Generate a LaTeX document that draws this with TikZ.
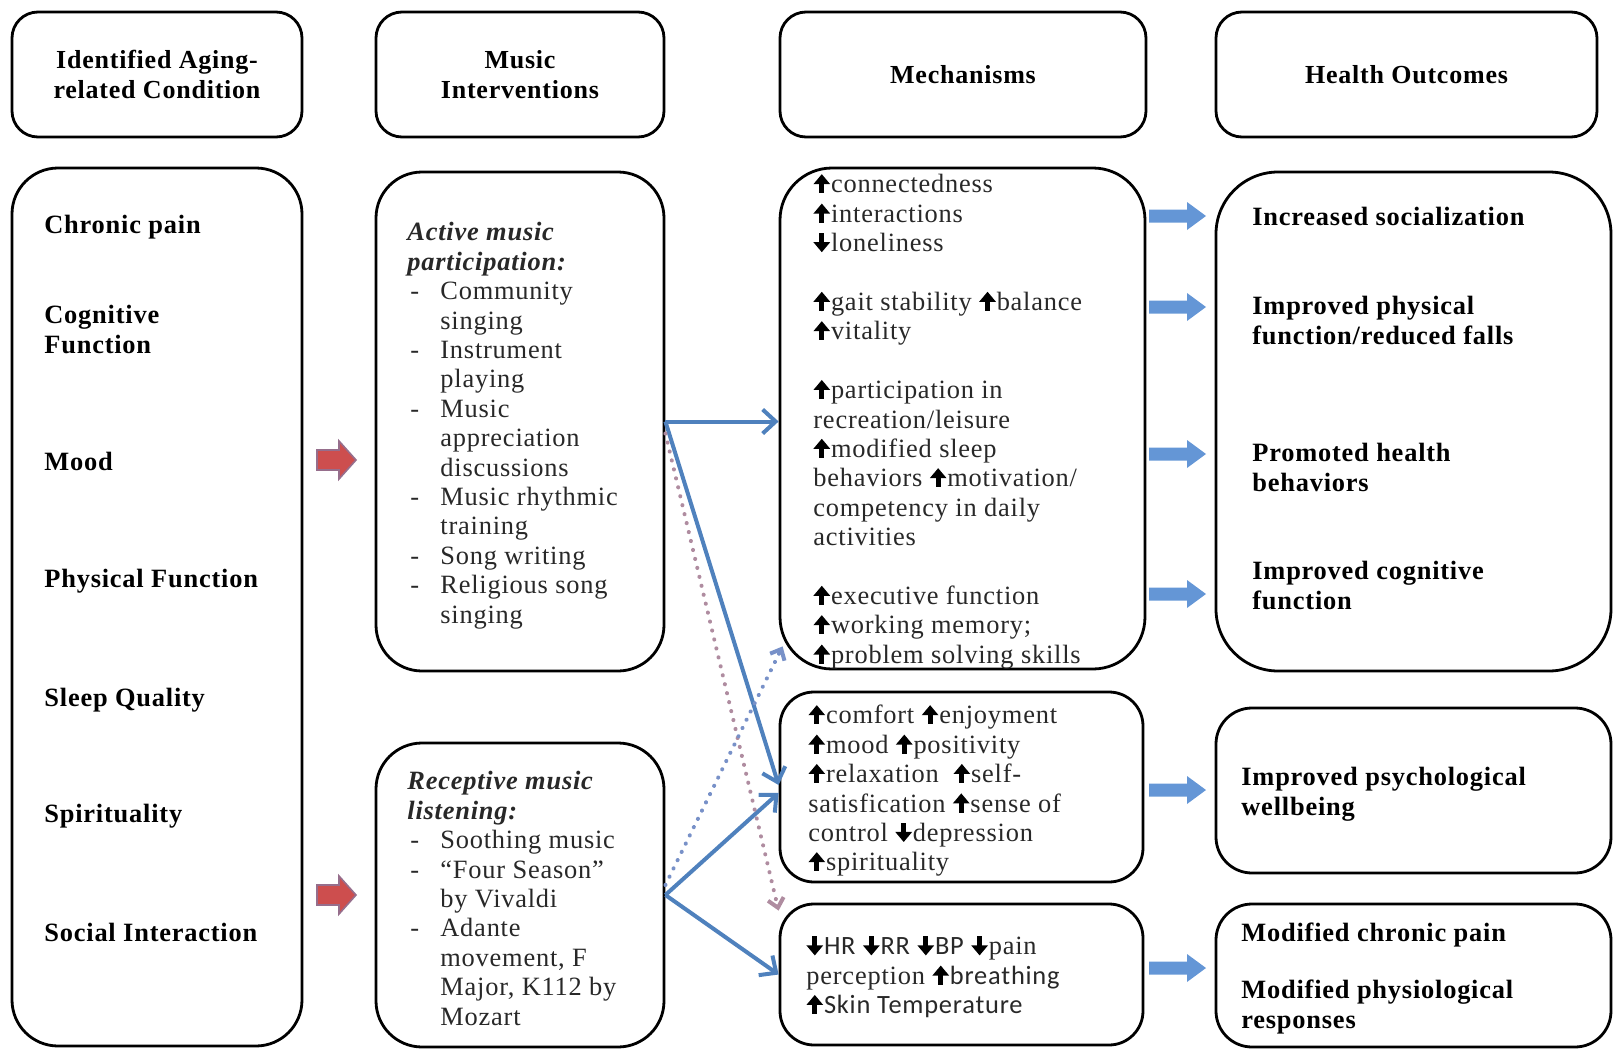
\documentclass[tikz,border=0pt]{standalone}
\usepackage{fontspec}
\setmainfont{Liberation Serif}[LetterSpace=3]
\newfontfamily\sansf{Carlito}[LetterSpace=3]
\usetikzlibrary{arrows.meta}
\definecolor{connblue}{RGB}{79,129,189}
\definecolor{blkblue}{RGB}{100,150,214}
\definecolor{blkred}{RGB}{205,78,78}
\definecolor{redline}{RGB}{150,110,140}
\definecolor{dotpink}{RGB}{175,140,160}
\definecolor{dotblue}{RGB}{120,145,200}
\definecolor{bodytext}{RGB}{40,40,40}
\newcommand\upa{\tikz[baseline=0pt]{\fill[black] (-1.2pt,-0.2pt) rectangle (1.2pt,5.5pt); \fill[black] (-4.2pt,4.4pt) -- (4.2pt,4.4pt) -- (0pt,9.4pt) -- cycle;}\hspace{0.4pt}}
\newcommand\dna{\tikz[baseline=0pt]{\fill[black] (-1.2pt,3.7pt) rectangle (1.2pt,9.4pt); \fill[black] (-4.2pt,4.8pt) -- (4.2pt,4.8pt) -- (0pt,-0.2pt) -- cycle;}\hspace{0.4pt}}
\begin{document}
\begin{tikzpicture}[x=0.5pt,y=-0.5pt,
  box/.style={draw=black, line width=1.4pt, fill=white, rectangle, inner sep=0pt},
  hdr/.style={box, rounded corners=13pt, font=\fontsize{13}{14.7}\selectfont\bfseries, align=center},
  txt/.style={anchor=north west, inner sep=0pt, align=left, font=\fontsize{13.2}{14.7}\selectfont, text=bodytext},
  btxt/.style={txt, font=\fontsize{13.2}{14.7}\selectfont\bfseries, text=black},
  conn/.style={draw=connblue, line width=2pt, -{Straight Barb[length=6.5pt,width=12pt]}},
  dotconn/.style={line width=2pt, dash pattern=on 0.1pt off 4.5pt, line cap=round, -{Straight Barb[length=4.5pt,width=8pt]}},
  bluearrow/.pic={\fill[blkblue] (0,-6.5) -- (38,-6.5) -- (38,-14) -- (57,0) -- (38,14) -- (38,6.5) -- (0,6.5) -- cycle;},
  redarrow/.pic={\filldraw[fill=blkred, draw=redline, line width=0.8pt] (0,-10) -- (22,-10) -- (22,-19) -- (39,0) -- (22,19) -- (22,10) -- (0,10) -- cycle;}
]
\useasboundingbox (0,0) rectangle (1614,1050);

% headers
\node[hdr, minimum width=145pt, minimum height=62.5pt] (h1) at (157,74.5) {Identified Aging-\\related Condition};
\node[hdr, minimum width=144pt, minimum height=62.5pt] (h2) at (520,74.5) {Music\\Interventions};
\node[hdr, minimum width=183pt, minimum height=62.5pt] (h3) at (963,74.5) {Mechanisms};
\node[hdr, minimum width=190.5pt, minimum height=62.5pt] (h4) at (1406.5,74.5) {Health Outcomes};

% boxes
\node[box, rounded corners=23pt, minimum width=145pt, minimum height=439pt] (cond) at (157,607) {};
\node[box, rounded corners=23pt, minimum width=144pt, minimum height=249.5pt] (act) at (520,421.5) {};
\node[box, rounded corners=23pt, minimum width=144pt, minimum height=152pt] (rec) at (520,895) {};
\node[box, rounded corners=26pt, minimum width=182.5pt, minimum height=250.5pt] (m1) at (962.5,418.5) {};
\node[box, rounded corners=17pt, minimum width=181.5pt, minimum height=95pt] (m2) at (961.5,787) {};
\node[box, rounded corners=17pt, minimum width=181.5pt, minimum height=70.5pt] (m3) at (961.5,974.5) {};
\node[box, rounded corners=31pt, minimum width=197.5pt, minimum height=249.5pt] (o1) at (1413.5,421.5) {};
\node[box, rounded corners=18pt, minimum width=197.5pt, minimum height=82.5pt] (o2) at (1413.5,790.5) {};
\node[box, rounded corners=18pt, minimum width=197.5pt, minimum height=71.5pt] (o3) at (1413.5,975.5) {};

% conditions
\node[btxt] (c1) at (44,213) {\strut Chronic pain};
\node[btxt] (c2) at (44,303) {\strut Cognitive\\Function};
\node[btxt] (c3) at (44,450) {\strut Mood};
\node[btxt] (c4) at (44,567) {\strut Physical Function};
\node[btxt] (c5) at (44,686) {\strut Sleep Quality};
\node[btxt] (c6) at (44,802) {\strut Spirituality};
\node[btxt] (c7) at (44,921) {\strut Social Interaction};

% interventions
\node[txt] (acttext) at (407,220) {\strut\textbf{\textit{Active music}}\\
\textbf{\textit{participation:}}\\
\hspace{1.5pt}\makebox[15pt][l]{-}Community\\
\hspace{16.5pt}singing\\
\hspace{1.5pt}\makebox[15pt][l]{-}Instrument\\
\hspace{16.5pt}playing\\
\hspace{1.5pt}\makebox[15pt][l]{-}Music\\
\hspace{16.5pt}appreciation\\
\hspace{16.5pt}discussions\\
\hspace{1.5pt}\makebox[15pt][l]{-}Music rhythmic\\
\hspace{16.5pt}training\\
\hspace{1.5pt}\makebox[15pt][l]{-}Song writing\\
\hspace{1.5pt}\makebox[15pt][l]{-}Religious song\\
\hspace{16.5pt}singing};
\node[txt] (rectext) at (407,769) {\strut\textbf{\textit{Receptive music}}\\
\textbf{\textit{listening:}}\\
\hspace{1.5pt}\makebox[15pt][l]{-}Soothing music\\
\hspace{1.5pt}\makebox[15pt][l]{-}“Four Season”\\
\hspace{16.5pt}by Vivaldi\\
\hspace{1.5pt}\makebox[15pt][l]{-}Adante\\
\hspace{16.5pt}movement, F\\
\hspace{16.5pt}Major, K112 by\\
\hspace{16.5pt}Mozart};

% mechanisms
\node[txt] (m1text) at (813,172) {\strut\upa connectedness\\
\upa interactions\\
\dna loneliness\\[14.7pt]
\upa gait stability \upa balance\\
\upa vitality\\[14.7pt]
\upa participation in\\
recreation/leisure\\
\upa modified sleep\\
behaviors \upa motivation/\\
competency in daily\\
activities\\[14.7pt]
\upa executive function\\
\upa working memory;\\
\upa problem solving skills};
\node[txt] (m2text) at (808,703) {\strut\upa comfort \upa enjoyment\\
\upa mood \upa positivity\\
\upa relaxation \ \upa self-\\
satisfication \upa sense of\\
control \dna depression\\
\upa spirituality};
\node[txt] (m3text) at (806,934) {\strut\dna{\sansf HR} \dna{\sansf RR} \dna{\sansf BP} \dna pain\\
perception \upa{\sansf breathing}\\
\upa{\sansf Skin Temperature}};

% outcomes
\node[btxt] (r1) at (1252,205) {\strut Increased socialization};
\node[btxt] (r2) at (1252,294) {\strut Improved physical\\function/reduced falls};
\node[btxt] (r3) at (1252,441) {\strut Promoted health\\behaviors};
\node[btxt] (r4) at (1252,559) {\strut Improved cognitive\\function};
\node[btxt] (r5) at (1241,765) {\strut Improved psychological\\wellbeing};
\node[btxt] (r6) at (1241,921) {\strut Modified chronic pain};
\node[btxt] (r7) at (1241,978) {\strut Modified physiological\\responses};

% block arrows
\pic at (317,460) {redarrow};
\pic at (317,895) {redarrow};
\pic at (1149,216) {bluearrow};
\pic at (1149,307) {bluearrow};
\pic at (1149,454) {bluearrow};
\pic at (1149,594) {bluearrow};
\pic at (1149,790) {bluearrow};
\pic at (1149,968) {bluearrow};

% connectors
\draw[conn] (act.east) -- (act.east -| m1.west);
\draw[conn] (act.east) -- ([yshift=1pt]m2.west);
\draw[conn] (rec.east) -- ([yshift=-3pt]m2.west);
\draw[conn] (rec.east) -- (m3.west);
\draw[dotconn, draw=dotpink] ([yshift=-6pt]act.east) -- ([yshift=-4pt]m3.north west);
\draw[dotconn, draw=dotblue] ([yshift=5pt]rec.east) -- ([xshift=2pt,yshift=12pt]m1.south west);
\end{tikzpicture}
\end{document}
